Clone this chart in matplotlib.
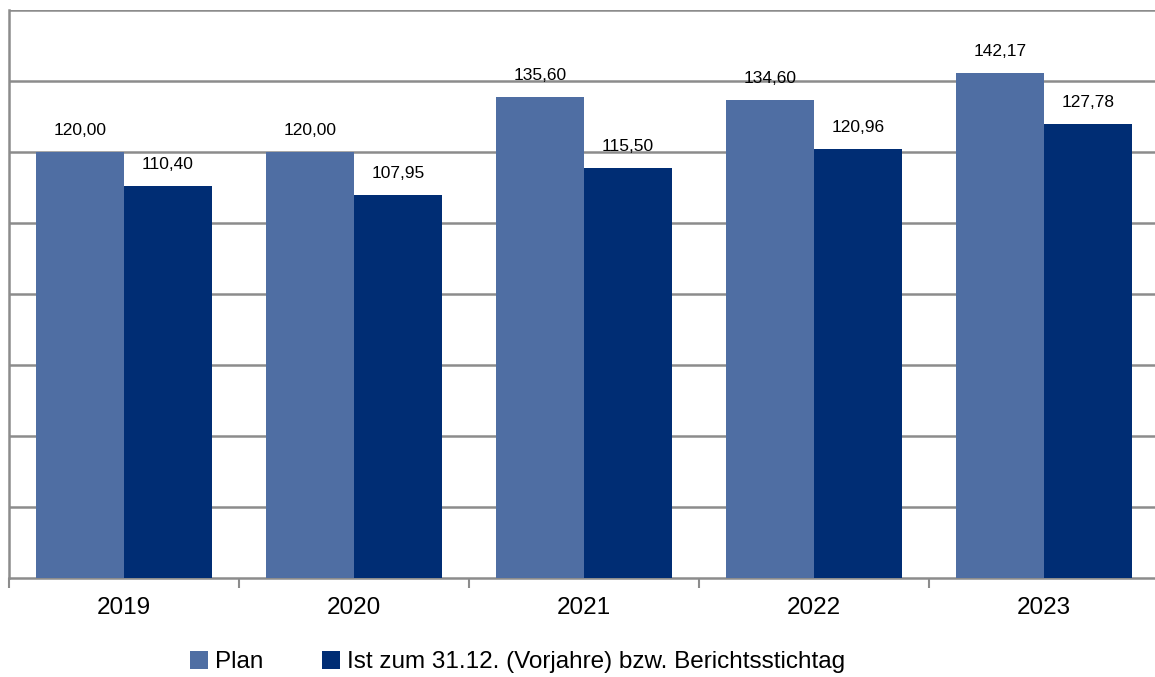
import numpy as np
import matplotlib
matplotlib.use("Agg")
from matplotlib import pyplot as plt
from matplotlib.ticker import FixedLocator

plt.rcParams["font.family"] = ["Liberation Sans", "DejaVu Sans"]

# ---------------------------
# Data
# ---------------------------

years = ["2019", "2020", "2021", "2022", "2023"]
plan = [120.00, 120.00, 135.60, 134.60, 142.17]
ist = [110.40, 107.95, 115.50, 120.96, 127.78]

plan_label = "Plan"
ist_label = "Ist zum 31.12. (Vorjahre) bzw. Berichtsstichtag"

plan_color = "#4F6EA3"
ist_color = "#002D74"
grid_color = "#8C8C8C"

# ---------------------------
# Figure
# ---------------------------

fig = plt.figure(figsize=(11.55, 6.77), dpi=100)
ax = fig.add_axes([9 / 1155, 99 / 677, 1150 / 1155, 568 / 677])

x = np.arange(len(years))
width = 0.383

bars_plan = ax.bar(x - width / 2, plan, width, color=plan_color,
                   label=plan_label, zorder=3)
bars_ist = ax.bar(x + width / 2, ist, width, color=ist_color,
                  label=ist_label, zorder=3)

for bars, values in [(bars_plan, plan), (bars_ist, ist)]:
    for bar, value in zip(bars, values):
        ax.annotate(
            f"{value:.2f}".replace(".", ","),
            (bar.get_x() + bar.get_width() / 2, bar.get_height()),
            xytext=(0, 10), textcoords="offset points",
            ha="center", va="bottom", fontsize=12.5,
        )

ax.set_xlim(-0.5, len(years) - 0.5)
ax.set_ylim(0, 160)

ax.set_yticks(np.arange(20, 161, 20))
ax.yaxis.grid(True, color=grid_color, linewidth=1.8, zorder=0)
ax.tick_params(axis="y", length=0, labelleft=False)

ax.set_xticks(x)
ax.set_xticklabels(years, fontsize=17.5)
ax.tick_params(axis="x", which="major", length=0, pad=14)
ax.xaxis.set_minor_locator(FixedLocator(np.arange(-0.5, len(years), 1.0)))
ax.tick_params(axis="x", which="minor", length=7, width=1.5,
               color=grid_color)

for side in ["top", "right"]:
    ax.spines[side].set_visible(False)
for side in ["left", "bottom"]:
    ax.spines[side].set_color(grid_color)
    ax.spines[side].set_linewidth(1.8)

fig.legend(
    loc="center", bbox_to_anchor=(0.448, 0.022), ncol=2,
    frameon=False, fontsize=17.5, handlelength=0.75, handleheight=0.75,
    handletextpad=0.3, columnspacing=2.4, borderaxespad=0,
)

plt.savefig("out.png", dpi=100)
